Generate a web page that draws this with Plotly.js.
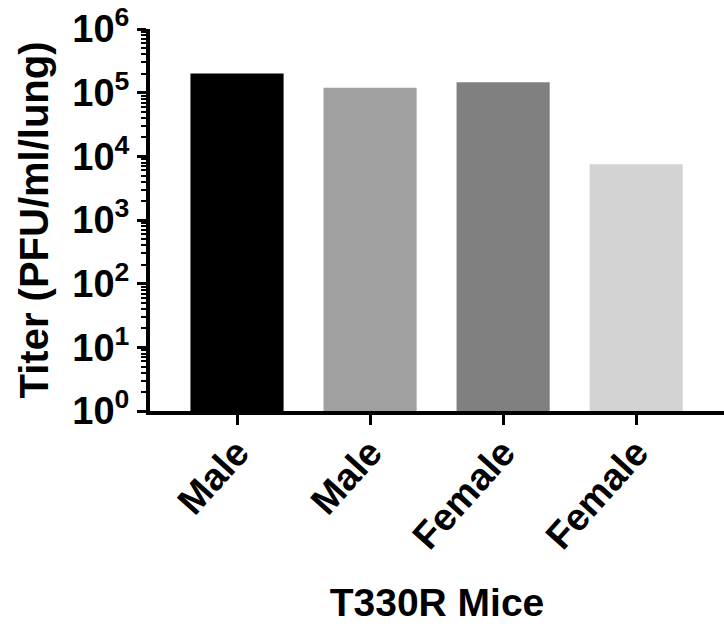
<!DOCTYPE html>
<html>
<head>
<meta charset="utf-8">
<script src="https://cdn.plot.ly/plotly-3.0.1.min.js"></script>
<style>html,body{margin:0;padding:0;background:#fff;}#chart{width:724px;height:627px;}</style>
</head>
<body>
<div id="chart"></div>
<script>
const categories = ["Male", "Male ", "Female", "Female "];
const tickLabels = ["Male", "Male", "Female", "Female"];
const titers = [200000, 119000, 146000, 7500];
const barColors = ["#000000", "#a0a0a0", "#808080", "#d3d3d3"];
const yExponents = [0, 1, 2, 3, 4, 5, 6];

const font = "Liberation Sans, Arial, sans-serif";

const trace = {
  type: "bar",
  x: categories,
  y: titers,
  marker: {color: barColors, line: {width: 0}},
  hoverinfo: "none"
};

const layout = {
  width: 724, height: 627,
  margin: {l: 150, r: 0, t: 29, b: 216},
  paper_bgcolor: "#fff", plot_bgcolor: "#fff",
  showlegend: false,
  bargap: 0.30,
  font: {family: font, color: "#000", weight: "bold"},
  xaxis: {
    type: "category",
    range: [-0.654, 3.66],
    tickvals: categories,
    ticktext: tickLabels,
    tickangle: -48,
    ticklabelstandoff: -10,
    tickfont: {size: 38, family: font, weight: "bold"},
    showline: true, linewidth: 4, linecolor: "#000",
    ticks: "outside", ticklen: 10, tickwidth: 3, tickcolor: "#000",
    showgrid: false, zeroline: false,
    title: {text: "T330R Mice", font: {size: 39, family: font, weight: "bold"}, standoff: 34}
  },
  yaxis: {
    type: "log",
    range: [0, 6],
    tickvals: yExponents.map(e => Math.pow(10, e)),
    ticktext: yExponents.map(e => "10<sup>" + e + "</sup>"),
    tickfont: {size: 38, family: font, weight: "bold"},
    showline: true, linewidth: 4, linecolor: "#000",
    ticks: "outside", ticklen: 9, tickwidth: 3, tickcolor: "#000",
    minor: {ticks: "outside", ticklen: 5, tickwidth: 2, tickcolor: "#000", dtick: "D1", showgrid: false},
    showgrid: false, zeroline: false,
    title: {text: "Titer (PFU/ml/lung)", font: {size: 40, family: font, weight: "bold"}, standoff: 12}
  }
};

Plotly.newPlot("chart", [trace], layout, {staticPlot: true, displayModeBar: false});
</script>
</body>
</html>
